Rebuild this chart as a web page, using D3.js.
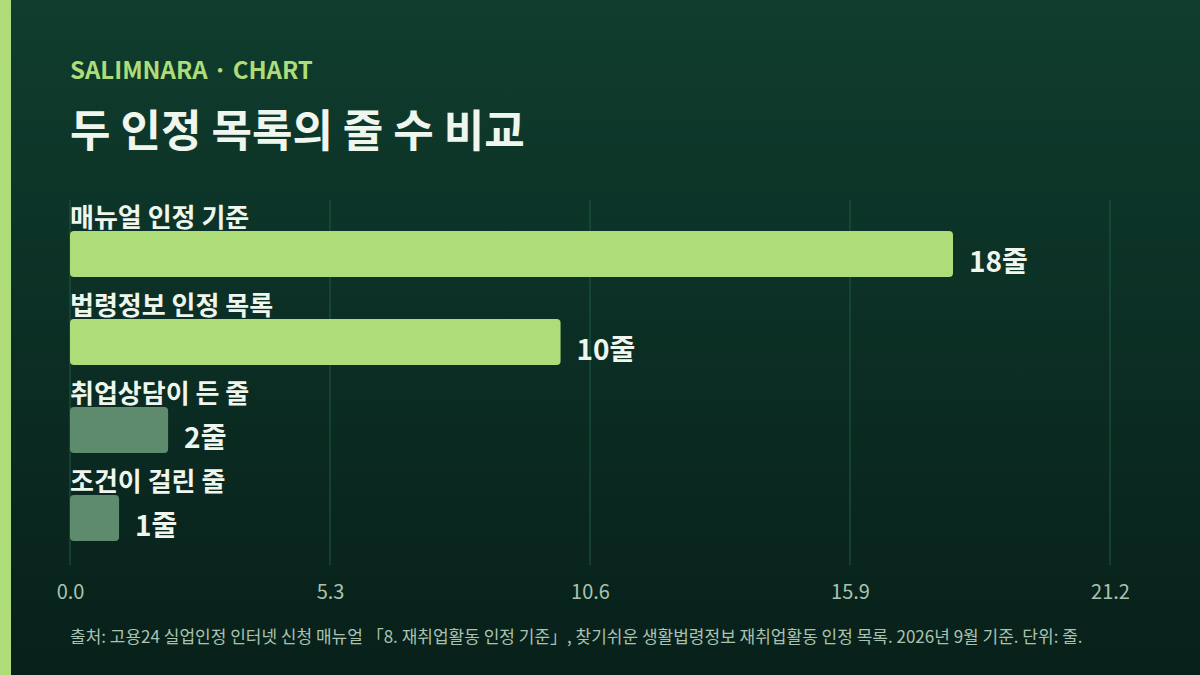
<!DOCTYPE html>
<html>
<head>
<meta charset="utf-8">
<script src="https://cdn.jsdelivr.net/npm/d3@7"></script>
<style>
  html, body { margin: 0; padding: 0; background: #0b2a20; }
  svg { display: block; }
  text { font-family: "Noto Sans CJK KR", "Noto Sans", sans-serif; }
</style>
</head>
<body>
<div id="chart"></div>
<script>
// data
const categories = ['매뉴얼 인정 기준', '법령정보 인정 목록', '취업상담이 든 줄', '조건이 걸린 줄'];
const values = [18, 10, 2, 1];
const highlight = [true, true, false, false];
const tickValues = [0, 5.3, 10.6, 15.9, 21.2];
const unit = '줄';

const W = 1200, H = 675;
const margin = { left: 70, right: 90, top: 200, bottom: 110 };
const colorHi = '#addc78';
const colorLo = '#5e8b6e';

const svg = d3.select('#chart').append('svg')
  .attr('width', W)
  .attr('height', H);

// background
const defs = svg.append('defs');
const grad = defs.append('linearGradient')
  .attr('id', 'bg').attr('x1', 0).attr('y1', 0).attr('x2', 0).attr('y2', 1);
grad.append('stop').attr('offset', '0%').attr('stop-color', '#0f3d2e');
grad.append('stop').attr('offset', '100%').attr('stop-color', '#08201a');
svg.append('rect').attr('width', W).attr('height', H).attr('fill', 'url(#bg)');
svg.append('rect').attr('width', 11).attr('height', H).attr('fill', colorHi);

// header
svg.append('text')
  .attr('x', 70).attr('y', 79)
  .attr('fill', colorHi)
  .style('font-size', '24px').style('font-weight', 700)
  .text('SALIMNARA · CHART');

svg.append('text')
  .attr('x', 70).attr('y', 147)
  .attr('fill', '#eef6ee')
  .style('font-size', '44px').style('font-weight', 700)
  .text('두 인정 목록의 줄 수 비교');

// scales
const x = d3.scaleLinear()
  .domain([0, 21.2])
  .range([margin.left, W - margin.right]);

const rowStep = 88;
const barH = 46;
const firstBarTop = 231;

// grid
const gridTop = 200, gridBottom = 565;
svg.append('g').selectAll('line')
  .data(tickValues)
  .join('line')
  .attr('x1', d => x(d)).attr('x2', d => x(d))
  .attr('y1', gridTop).attr('y2', gridBottom)
  .attr('stroke', '#1f5a43')
  .attr('stroke-width', 1);

// axis labels
const axis = d3.axisBottom(x)
  .tickValues(tickValues)
  .tickFormat(d3.format('.1f'))
  .tickSize(0)
  .tickPadding(0);

const axisG = svg.append('g')
  .attr('transform', 'translate(0,' + 585 + ')')
  .call(axis);
axisG.select('.domain').remove();
axisG.selectAll('text')
  .attr('fill', '#a9c3b0')
  .style('font-size', '20px')
  .style('font-family', '"Noto Sans CJK KR", "Noto Sans", sans-serif');

// rows
const rows = svg.append('g').selectAll('g')
  .data(values)
  .join('g')
  .attr('transform', (d, i) => 'translate(0,' + (firstBarTop + i * rowStep) + ')');

rows.append('text')
  .attr('x', margin.left).attr('y', -4)
  .attr('fill', '#eef6ee')
  .style('font-size', '26px').style('font-weight', 700)
  .text((d, i) => categories[i]);

rows.append('rect')
  .attr('x', x(0))
  .attr('y', 0)
  .attr('width', d => x(d) - x(0))
  .attr('height', barH)
  .attr('rx', 4)
  .attr('fill', (d, i) => highlight[i] ? colorHi : colorLo);

rows.append('text')
  .attr('x', d => x(d) + 16)
  .attr('y', 41)
  .attr('fill', '#eef6ee')
  .style('font-size', '28px').style('font-weight', 700)
  .text(d => d + unit);

// footer
svg.append('text')
  .attr('x', 70).attr('y', 643)
  .attr('fill', '#a9c3b0')
  .style('font-size', '17px')
  .text('출처: 고용24 실업인정 인터넷 신청 매뉴얼 「8. 재취업활동 인정 기준」, 찾기쉬운 생활법령정보 재취업활동 인정 목록. 2026년 9월 기준. 단위: 줄.');
</script>
</body>
</html>
